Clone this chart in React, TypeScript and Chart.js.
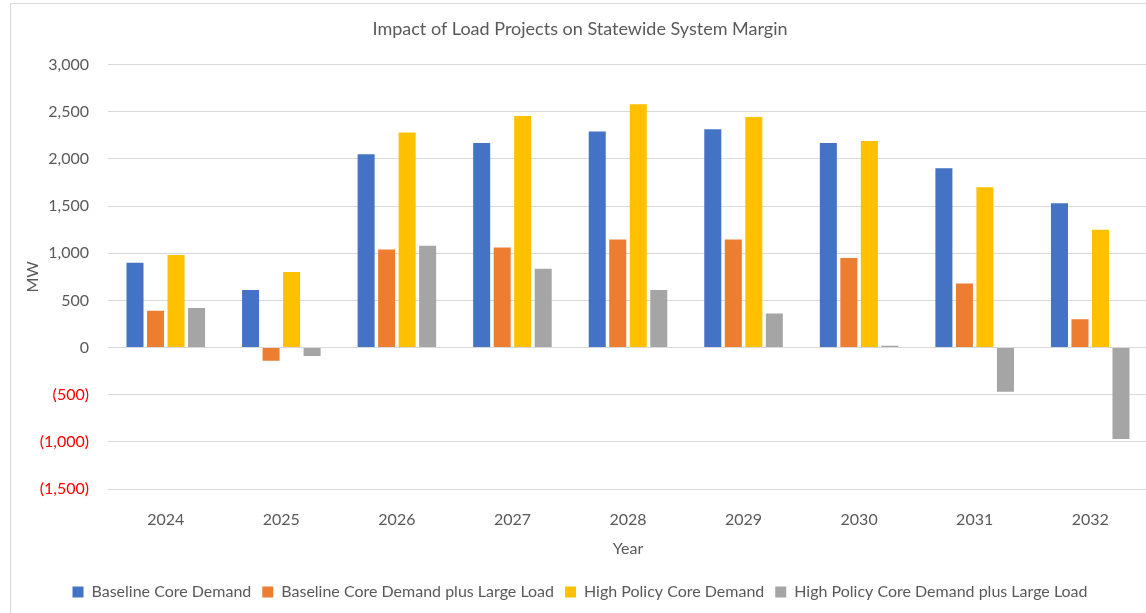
import React, { useEffect, useRef } from "react";
import { Chart, registerables } from "chart.js";

Chart.register(...registerables);

const years = ["2024", "2025", "2026", "2027", "2028", "2029", "2030", "2031", "2032"];
const baselineCore = [900, 610, 2050, 2170, 2290, 2315, 2170, 1900, 1530];
const baselinePlusLarge = [390, -140, 1040, 1060, 1145, 1145, 950, 680, 300];
const highPolicyCore = [980, 800, 2280, 2455, 2580, 2445, 2190, 1700, 1250];
const highPolicyPlusLarge = [420, -90, 1080, 835, 610, 360, 20, -470, -970];

const seriesNames = [
  "Baseline Core Demand",
  "Baseline Core Demand plus Large Load",
  "High Policy Core Demand",
  "High Policy Core Demand plus Large Load",
];
const seriesColors = ["#4472C4", "#ED7D31", "#FFC000", "#A5A5A5"];

const chartTitle = "Impact of Load Projects on Statewide System Margin";
const xTitle = "Year";
const yTitle = "MW";
const yMin = -1500;
const yMax = 3000;
const yStep = 500;

const FONT = "Lato, 'Open Sans', sans-serif";
const TEXT = "#595959";

function fmt(v: number): string {
  const s = Math.abs(v).toLocaleString("en-US");
  return v < 0 ? `(${s})` : s;
}

export default function App() {
  const ref = useRef<HTMLCanvasElement | null>(null);

  useEffect(() => {
    if (!ref.current) return;
    const data = [baselineCore, baselinePlusLarge, highPolicyCore, highPolicyPlusLarge];
    const chart = new Chart(ref.current, {
      type: "bar",
      data: {
        labels: years,
        datasets: data.map((d, i) => ({
          label: seriesNames[i],
          data: d,
          backgroundColor: seriesColors[i],
          borderWidth: 0,
          categoryPercentage: 0.71,
          barPercentage: 0.83,
        })),
      },
      options: {
        animation: false,
        responsive: false,
        devicePixelRatio: 1,
        layout: { padding: { left: 12, right: 12, top: 0, bottom: 3 } },
        plugins: {
          title: {
            display: true,
            text: chartTitle,
            color: TEXT,
            font: { family: FONT, size: 18, weight: "normal" },
            padding: { top: 18, bottom: 25 },
          },
          legend: {
            position: "bottom",
            labels: {
              color: TEXT,
              font: { family: FONT, size: 16 },
              boxWidth: 11,
              boxHeight: 11,
              padding: 11,
            },
          },
          tooltip: { enabled: false },
        },
        scales: {
          x: {
            grid: { display: false, drawTicks: false },
            border: { display: false },
            ticks: { color: TEXT, font: { family: FONT, size: 16 }, padding: 21 },
            title: {
              display: true,
              text: xTitle,
              color: TEXT,
              font: { family: FONT, size: 16 },
              padding: { top: 0, bottom: 15 },
            },
            afterFit: (s: any) => {
              s.height = 84;
            },
          },
          y: {
            min: yMin,
            max: yMax,
            grid: { color: "#d9d9d9", lineWidth: 1, drawTicks: false },
            border: { display: false },
            ticks: {
              stepSize: yStep,
              padding: 19,
              font: { family: FONT, size: 16 },
              color: (ctx: any) => (ctx.tick && ctx.tick.value < 0 ? "#FF0000" : TEXT),
              callback: (v: any) => fmt(Number(v)),
            },
            title: {
              display: true,
              text: yTitle,
              color: TEXT,
              font: { family: FONT, size: 16 },
              padding: { top: 11, bottom: 0 },
            },
            afterFit: (s: any) => {
              s.width = 96;
            },
          },
        },
      },
    } as any);
    return () => chart.destroy();
  }, []);

  return (
    <div
      style={{
        position: "fixed",
        left: 0,
        top: 0,
        width: 1146,
        height: 613,
        overflow: "hidden",
        background: "#ffffff",
      }}
    >
      <div
        style={{
          position: "absolute",
          left: 10,
          top: 3,
          width: 1200,
          height: 700,
          border: "1px solid #d9d9d9",
          boxSizing: "border-box",
        }}
      />
      <canvas
        ref={ref}
        width={1160}
        height={613}
        style={{ position: "absolute", left: 0, top: 0 }}
      />
    </div>
  );
}
